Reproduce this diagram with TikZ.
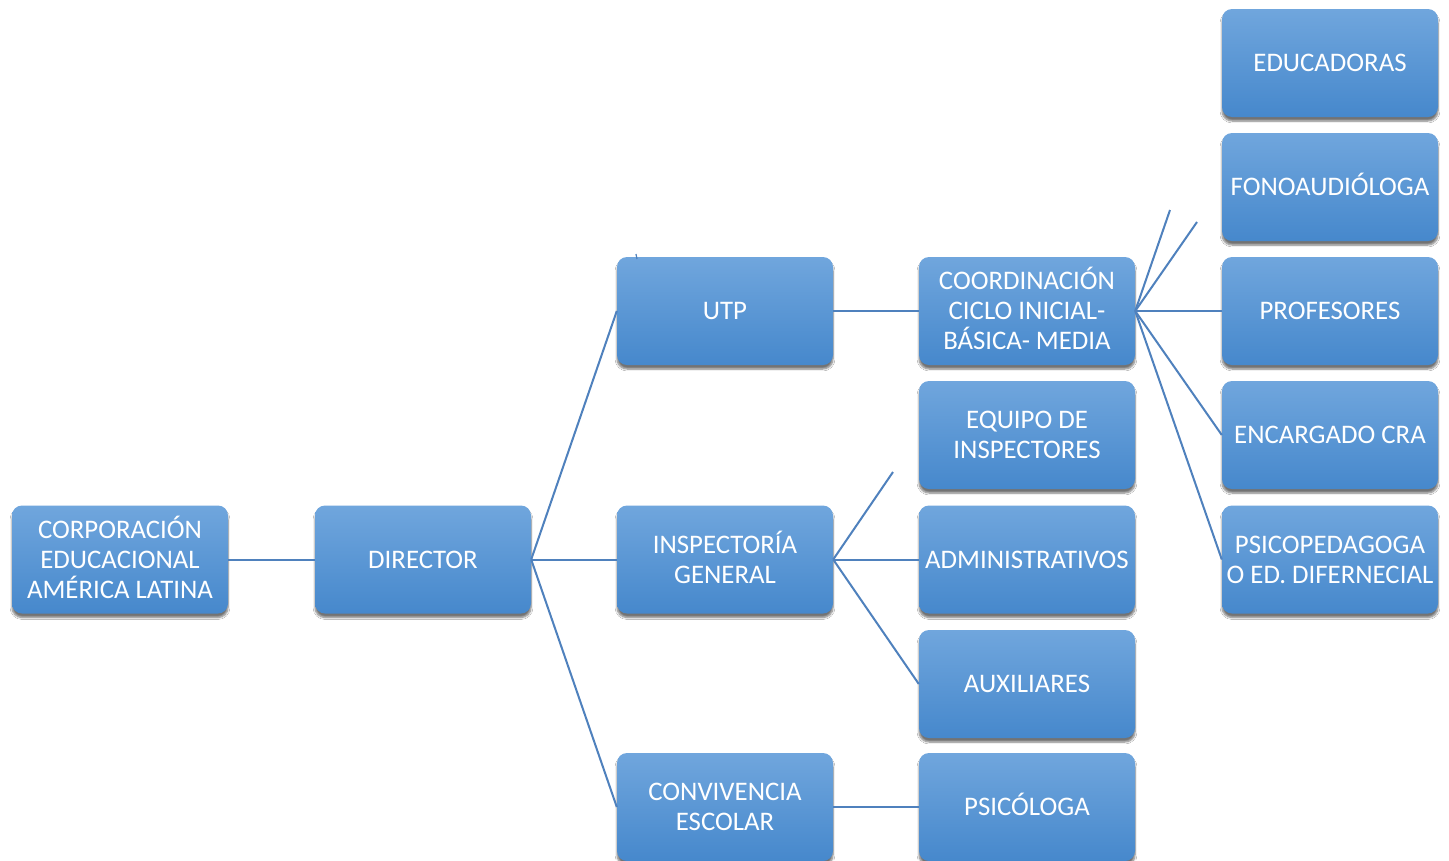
\documentclass[tikz,border=0pt]{standalone}
\usepackage{fontspec}
\setmainfont{Carlito}
\usetikzlibrary{shadows.blur}
\definecolor{boxtop}{RGB}{112,166,221}
\definecolor{boxbot}{RGB}{70,136,204}
\definecolor{linkc}{RGB}{79,129,189}
\begin{document}
\begin{tikzpicture}[x=1pt,y=-1pt,
  orgbox/.style={rectangle, rounded corners=10pt, minimum width=216pt, minimum height=108pt,
    inner sep=2pt, top color=boxtop, bottom color=boxbot, draw=none,
    text=white, align=center, font=\fontsize{26.8}{30}\selectfont,
    blur shadow={shadow xshift=0pt, shadow yshift=-4pt, shadow blur steps=6, shadow opacity=55}},
  accented/.style={text height=#1},
  link/.style={draw=linkc, line width=2pt}]
\path[use as bounding box, fill=white] (0,0) rectangle (1449,860);
\begin{scope}
\clip (0,0) rectangle (1449,860);
\node[orgbox, accented=77.6pt] (corp) at (120,559.5) {CORPORACIÓN\\EDUCACIONAL\\AMÉRICA LATINA};
\node[orgbox] (dir) at (423,559.5) {DIRECTOR};
\node[orgbox] (utp) at (725,311) {UTP};
\node[orgbox, accented=47.6pt] (insp) at (725,559.5) {INSPECTORÍA\\GENERAL};
\node[orgbox] (conv) at (725,807) {CONVIVENCIA\\ESCOLAR};
\node[orgbox, accented=77.6pt] (coord) at (1027,311) {COORDINACIÓN\\CICLO INICIAL-\\BÁSICA- MEDIA};
\node[orgbox] (equipo) at (1027,435) {EQUIPO DE\\INSPECTORES};
\node[orgbox] (admin) at (1027,559.5) {ADMINISTRATIVOS};
\node[orgbox] (aux) at (1027,684) {AUXILIARES};
\node[orgbox, accented=17.6pt] (psico) at (1027,807) {PSICÓLOGA};
\node[orgbox] (educ) at (1330,63) {EDUCADORAS};
\node[orgbox, accented=17.6pt] (fono) at (1330,187) {FONOAUDIÓLOGA};
\node[orgbox] (prof) at (1330,311) {PROFESORES};
\node[orgbox] (cra) at (1330,435) {ENCARGADO CRA};
\node[orgbox] (psp) at (1330,559.5) {PSICOPEDAGOGA\\O ED. DIFERNECIAL};
\coordinate (tickA) at (636,254);
\coordinate (tickB) at (637,259);
\coordinate (inspEnd) at (893,472);
\coordinate (coordEndA) at (1170,210);
\coordinate (coordEndB) at (1197,222);
\draw[link] (corp.east) -- (dir.west);
\draw[link] (dir.east) -- (utp.west);
\draw[link] (dir.east) -- (insp.west);
\draw[link] (dir.east) -- (conv.west);
\draw[link] (utp.east) -- (coord.west);
\draw[link] (insp.east) -- (inspEnd);
\draw[link] (insp.east) -- (admin.west);
\draw[link] (insp.east) -- (aux.west);
\draw[link] (conv.east) -- (psico.west);
\draw[link] (coord.east) -- (coordEndA);
\draw[link] (coord.east) -- (coordEndB);
\draw[link] (coord.east) -- (prof.west);
\draw[link] (coord.east) -- (cra.west);
\draw[link] (coord.east) -- (psp.west);
\draw[link, line width=1.2pt] (tickA) -- (tickB);
\end{scope}
\end{tikzpicture}
\end{document}
